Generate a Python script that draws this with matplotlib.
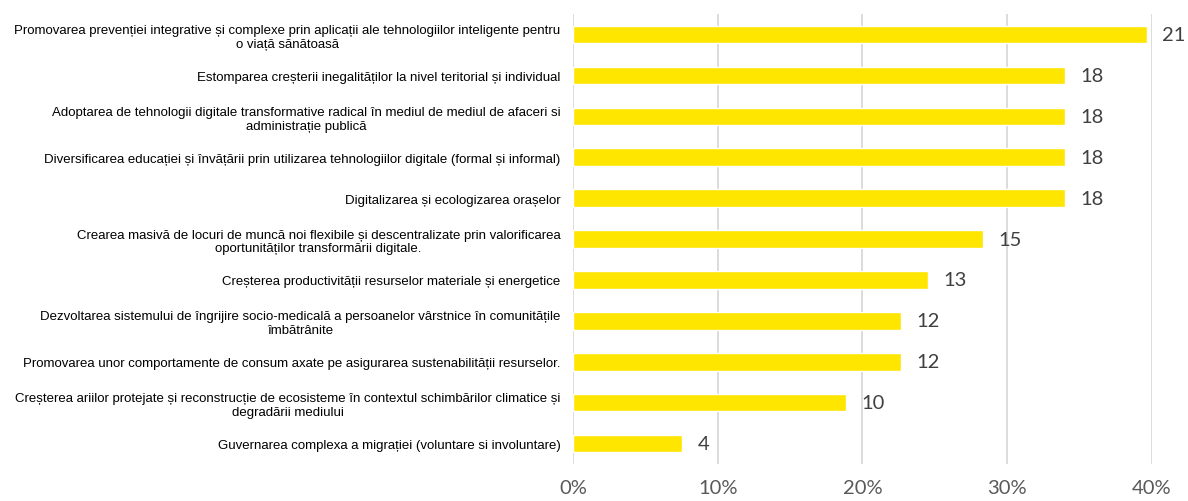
import matplotlib
matplotlib.use("Agg")
from matplotlib import pyplot as plt
from matplotlib.ticker import PercentFormatter

categories = [
    "Promovarea prevenției integrative și complexe prin aplicații ale tehnologiilor inteligente pentru\no viață sănătoasă",
    "Estomparea creșterii inegalităților la nivel teritorial și individual",
    "Adoptarea de tehnologii digitale transformative radical în mediul de mediul de afaceri si\nadministrație publică",
    "Diversificarea educației și învățării prin utilizarea tehnologiilor digitale (formal și informal)",
    "Digitalizarea și ecologizarea orașelor",
    "Crearea masivă de locuri de muncă noi flexibile și descentralizate prin valorificarea\noportunităților transformării digitale.",
    "Creșterea productivității resurselor materiale și energetice",
    "Dezvoltarea sistemului de îngrijire socio-medicală a persoanelor vârstnice în comunitățile\nîmbătrânite",
    "Promovarea unor comportamente de consum axate pe asigurarea sustenabilității resurselor.",
    "Creșterea ariilor protejate și reconstrucție de ecosisteme în contextul schimbărilor climatice și\ndegradării mediului",
    "Guvernarea complexa a migrației (voluntare si involuntare)",
]
counts = [21, 18, 18, 18, 18, 15, 13, 12, 12, 10, 4]
respondents = 53
x_ticks = [0, 0.1, 0.2, 0.3, 0.4]

shares = [c / respondents for c in counts]
pos = list(range(len(categories)))

fig = plt.figure(figsize=(11.88, 5.02), dpi=100)
ax = fig.add_axes([0.4823, 0.0737, 0.4874, 0.8963])

ax.barh(pos, shares, height=0.43, color="#FFE600", edgecolor="white",
        linewidth=1, zorder=3)

for y, s, c in zip(pos, shares, counts):
    ax.annotate(str(c), (s, y), xytext=(11, 0), textcoords="offset points",
                va="center", ha="left", fontsize=14.5, color="#404040",
                family="Lato")

ax.set_xlim(0, 0.4)
ax.set_ylim(len(categories) - 0.5, -0.5)
ax.set_xticks(x_ticks)
ax.xaxis.set_major_formatter(PercentFormatter(1.0, decimals=0))
ax.set_yticks(pos)
ax.set_yticklabels(categories, fontsize=9.5, family="Liberation Sans",
                   color="black", multialignment="center",
                   linespacing=1.2)

ax.grid(axis="x", color="#D9D9D9", linewidth=1.3, zorder=0)
for s in ax.spines.values():
    s.set_visible(False)
ax.tick_params(axis="y", length=0, pad=9)
ax.tick_params(axis="x", length=0, pad=11, labelsize=14.5, labelcolor="#595959")
for t in ax.get_xticklabels():
    t.set_family("Lato")

fig.savefig("out.png", dpi=100)
plt.close(fig)
